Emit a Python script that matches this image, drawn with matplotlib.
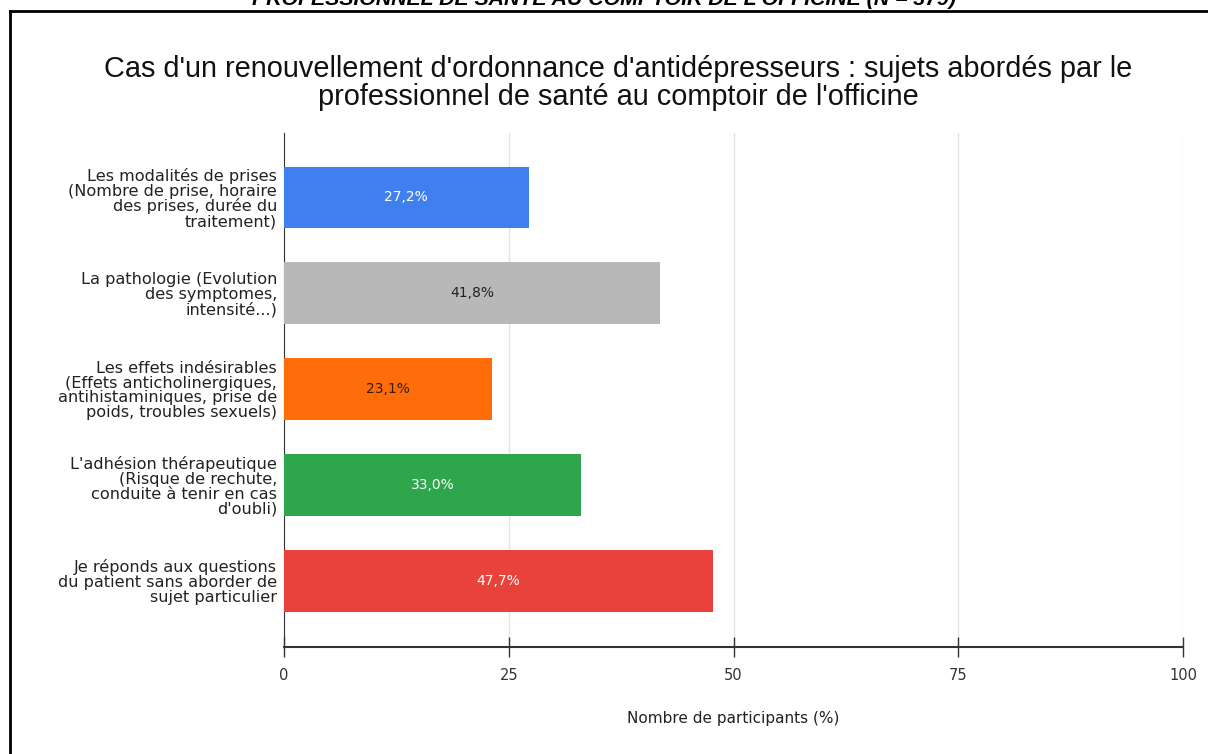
import matplotlib.pyplot as plt
from matplotlib.lines import Line2D

plt.rcParams['font.family'] = ['DejaVu Sans']

categories = [
    "Les modalités de prises\n(Nombre de prise, horaire\ndes prises, durée du\ntraitement)",
    "La pathologie (Evolution\ndes symptomes,\nintensité...)",
    "Les effets indésirables\n(Effets anticholinergiques,\nantihistaminiques, prise de\npoids, troubles sexuels)",
    "L'adhésion thérapeutique\n(Risque de rechute,\nconduite à tenir en cas\nd'oubli)",
    "Je réponds aux questions\ndu patient sans aborder de\nsujet particulier",
]
values = [27.2, 41.8, 23.1, 33.0, 47.7]
colors = ["#3f80ee", "#b8b8b8", "#ff6d0a", "#2ea64b", "#e8423a"]
label_colors = ["white", "#222222", "#3a1a00", "white", "white"]
xticks = [0, 25, 50, 75, 100]

W, H = 1208, 754
fig = plt.figure(figsize=(W / 100, H / 100), dpi=100)
ax = fig.add_axes([284 / W, 1 - 647 / H, (1183 - 284) / W, (647 - 133) / H])

ypos = list(range(len(categories)))
ax.barh(ypos, values, height=0.64, color=colors, zorder=3)
for y, v, c in zip(ypos, values, label_colors):
    ax.text(v / 2, y, f"{v:.1f}%".replace(".", ","), ha="center", va="center",
            color=c, fontsize=10, zorder=4)

ax.set_ylim(4.69, -0.67)
ax.set_xlim(0, 100)
ax.set_yticks(ypos)
ax.set_yticklabels(categories, fontsize=11.6, color="#222222", linespacing=0.98)
ax.tick_params(axis="y", length=0, pad=5)
ax.set_xticks(xticks)
ax.set_xticklabels([str(t) for t in xticks], fontsize=10.5, color="#333333")
ax.tick_params(axis="x", direction="inout", length=14, width=1, color="#333333", pad=8)
ax.grid(axis="x", color="#e4e4e4", linewidth=1, zorder=0)
for side in ["top", "right"]:
    ax.spines[side].set_visible(False)
ax.spines["left"].set_color("#333333")
ax.spines["bottom"].set_color("#333333")
ax.spines["bottom"].set_linewidth(1.5)

ax.set_xlabel("Nombre de participants (%)", fontsize=11, color="#222222", labelpad=20)

fig.text(618 / W, 1 - 83 / H,
         "Cas d'un renouvellement d'ordonnance d'antidépresseurs : sujets abordés par le\n"
         "professionnel de santé au comptoir de l'officine",
         ha="center", va="center", fontsize=20.8, color="#111111", linespacing=1.02,
         family="Liberation Sans")

# caption cut by the top edge
fig.text(0.5, 1 - 5 / H, "PROFESSIONNEL DE SANTE AU COMPTOIR DE L'OFFICINE (N = 379)",
         ha="center", va="baseline", fontsize=15.3, fontweight="bold", fontstyle="italic",
         color="black", family="Liberation Sans")

# frame around the figure
fig.add_artist(Line2D([10 / W, 10 / W], [0, 1 - 11 / H], color="black", linewidth=2,
                      transform=fig.transFigure))
fig.add_artist(Line2D([10 / W, 1], [1 - 11 / H, 1 - 11 / H], color="black", linewidth=2,
                      transform=fig.transFigure))

fig.savefig("out.png", dpi=100)
